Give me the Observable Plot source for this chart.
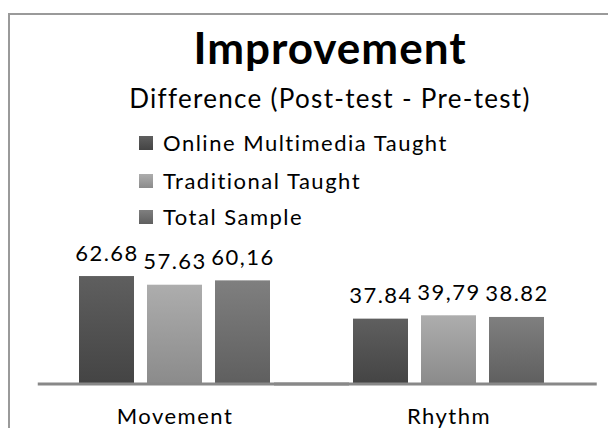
<!DOCTYPE html>
<html>
<head>
<meta charset="utf-8">
<script src="https://cdn.jsdelivr.net/npm/d3@7"></script>
<script src="https://cdn.jsdelivr.net/npm/@observablehq/plot@0.6"></script>
<style>
  html, body { margin: 0; padding: 0; background: #fff; }
  #wrap { position: relative; width: 608px; height: 428px; overflow: hidden; font-family: Lato, "Noto Sans", sans-serif; color: #000; }
  #frame { position: absolute; left: 8px; top: 13px; width: 700px; height: 500px; border: 2px solid #9a9a9a; box-sizing: border-box; }
  #title { position: absolute; left: 0; width: 660px; top: 25px; text-align: center; font-size: 44px; line-height: 44px; font-weight: 700; letter-spacing: 1px; white-space: nowrap; }
  #subtitle { position: absolute; left: 0; width: 660px; top: 85px; text-align: center; font-size: 26px; line-height: 26px; letter-spacing: 1.3px; white-space: nowrap; }
  #legend { position: absolute; left: 139px; top: 0; }
  .row { position: absolute; left: 0; white-space: nowrap; font-size: 22px; line-height: 22px; letter-spacing: 1.5px; }
  .sw { position: absolute; left: 0; width: 14px; height: 14px; }
  .lab { position: absolute; left: 24px; }
  #chart { position: absolute; left: 0; top: 228px; }
</style>
</head>
<body>
<div id="wrap">
  <div id="frame"></div>
  <div id="title">Improvement</div>
  <div id="subtitle">Difference (Post-test - Pre-test)</div>
  <div id="legend"></div>
  <div id="chart"></div>
</div>
<script>
const categories = ["Movement", "Rhythm"];
const series = ["Online Multimedia Taught", "Traditional Taught", "Total Sample"];
const movementValues = [62.68, 57.63, 60.16];
const rhythmValues = [37.84, 39.79, 38.82];
const movementLabels = ["62.68", "57.63", "60,16"];
const rhythmLabels = ["37.84", "39,79", "38.82"];
const gradientTop = ["#5f5f5f", "#adadad", "#7f7f7f"];
const gradientBottom = ["#444444", "#8b8b8b", "#5f5f5f"];

const valuesByCat = [movementValues, rhythmValues];
const labelsByCat = [movementLabels, rhythmLabels];
const data = [];
categories.forEach((c, i) => series.forEach((s, j) => {
  data.push({cat: c, series: s, value: valuesByCat[i][j], label: labelsByCat[i][j]});
}));

// Legend (HTML)
const legend = document.getElementById("legend");
const rowBaselines = [151, 189, 225];
series.forEach((s, j) => {
  const row = document.createElement("div");
  row.className = "row";
  row.style.top = (rowBaselines[j] - 19.5) + "px";
  const sw = document.createElement("div");
  sw.className = "sw";
  sw.style.top = "4px";
  sw.style.background = `linear-gradient(${gradientTop[j]}, ${gradientBottom[j]})`;
  const lab = document.createElement("span");
  lab.className = "lab";
  lab.textContent = s;
  row.appendChild(sw);
  row.appendChild(lab);
  legend.appendChild(row);
});

const plot = Plot.plot({
  width: 608,
  height: 200,
  marginLeft: 37,
  marginRight: 11,
  marginTop: 35.5,
  marginBottom: 44.5,
  style: {fontFamily: "Lato, 'Noto Sans', sans-serif", fontSize: "22px", letterSpacing: "1.5px", color: "#000", background: "transparent", overflow: "visible"},
  fx: {domain: categories, paddingInner: 0.2514, paddingOuter: 0.1457, align: 0.428, axis: "bottom", tickSize: 0, tickPadding: 24, label: null},
  x: {domain: series, paddingInner: 0.197, paddingOuter: 0.0985, axis: null},
  y: {domain: [0, 70], axis: null},
  color: {domain: series, range: ["url(#g0)", "url(#g1)", "url(#g2)"]},
  marks: [
    Plot.barY(data, {fx: "cat", x: "series", y: "value", fill: "series"}),
    Plot.ruleY([{c: categories[0], v: 0}], {fx: "c", y: "v", stroke: "#888888", strokeWidth: 3, insetLeft: -34.25, insetRight: -72}),
    Plot.ruleY([{c: categories[1], v: 0}], {fx: "c", y: "v", stroke: "#888888", strokeWidth: 3, insetLeft: -72, insetRight: -45.75}),
    Plot.text(data, {fx: "cat", x: "series", y: "value", text: "label", dy: -23, fill: "#000", fontSize: 22})
  ]
});

// gradient definitions for bar fills
const ns = "http://www.w3.org/2000/svg";
const defs = document.createElementNS(ns, "defs");
gradientTop.forEach((top, j) => {
  const g = document.createElementNS(ns, "linearGradient");
  g.setAttribute("id", "g" + j);
  g.setAttribute("x1", "0"); g.setAttribute("y1", "0");
  g.setAttribute("x2", "0"); g.setAttribute("y2", "1");
  [[0, top], [1, gradientBottom[j]]].forEach(([o, c]) => {
    const st = document.createElementNS(ns, "stop");
    st.setAttribute("offset", o);
    st.setAttribute("stop-color", c);
    g.appendChild(st);
  });
  defs.appendChild(g);
});
plot.prepend(defs);
document.getElementById("chart").appendChild(plot);
</script>
</body>
</html>
